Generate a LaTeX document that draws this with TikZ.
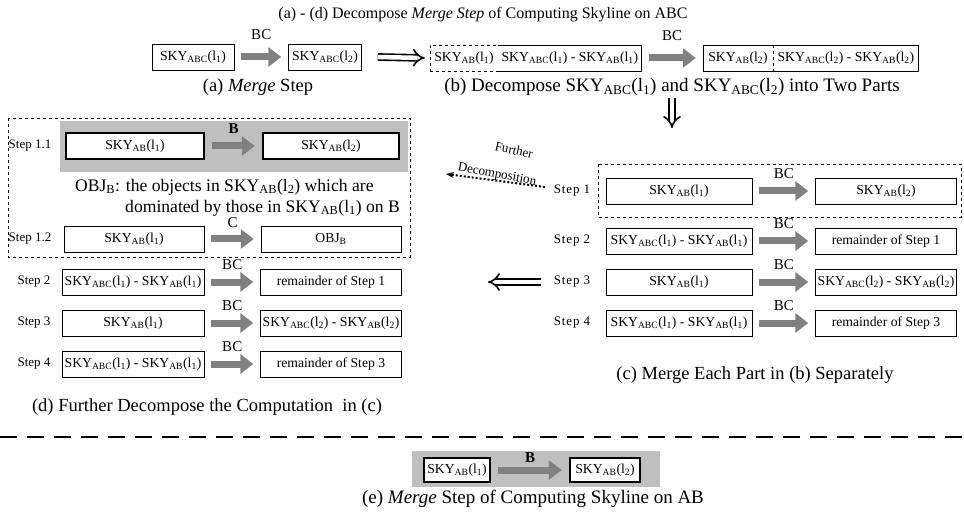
\documentclass[tikz,border=0pt]{standalone}
\usepackage{fontspec}
\setmainfont{Liberation Serif}
\usetikzlibrary{arrows.meta,positioning}
\definecolor{arrowgray}{RGB}{128,128,128}
\definecolor{shadegray}{RGB}{191,191,191}
\newcommand{\skyof}[2]{SKY\textsubscript{#1}(l\textsubscript{#2})}
\tikzset{
  box/.style={draw, fill=white, inner sep=0pt, minimum height=26pt, font=\fontsize{13.7}{16}\selectfont},
  thickbox/.style={box, line width=2.5pt},
  fat/.style={draw=arrowgray, line width=7pt, -{Triangle[length=13pt,width=19pt]}, shorten <=7pt, shorten >=7pt},
  lbl/.style={font=\fontsize{15}{17}\selectfont, inner sep=0pt},
  steplbl/.style={font=\fontsize{13}{15}\selectfont},
  widestep/.style={font=\fontsize{13}{15}\selectfont\addfontfeatures{LetterSpace=7}},
  caption/.style={font=\fontsize{18.5}{21}\selectfont, inner sep=0pt},
  imply/.style={double, double distance=4.5pt, line width=1.6pt, -{Implies}},
}

\begin{document}
\begin{tikzpicture}[x=1pt,y=-1pt]
\useasboundingbox (0,0) rectangle (964,513);
\node[caption, font=\fontsize{16}{19}\selectfont] (title) at (483,15) {(a) - (d) Decompose \textit{Merge Step} of Computing Skyline on ABC};

% (a)
\node[box, minimum width=82pt] (a1) at (193,57) {\skyof{ABC}{1}};
\node[box, minimum width=73pt] (a2) at (325,57) {\skyof{ABC}{2}};
\draw[fat] (a1) -- node[lbl, above=14pt] (abc) {BC} (a2);
\node[caption] (capa) at (258,87) {(a) \textit{Merge} Step};

% (b)
\node[box, dashed, minimum width=68pt] (b1l) at (464,58) {\skyof{AB}{1}};
\node[box, draw=none, minimum width=143pt, anchor=west] (b1r) at (b1l.east) {\skyof{ABC}{1} - \skyof{AB}{1}};
\draw (b1r.north west) -- (b1r.north east) -- (b1r.south east) -- (b1r.south west);
\node[box, draw=none, minimum width=70pt] (b2l) at (738,58) {\skyof{AB}{2}};
\node[box, draw=none, minimum width=145pt, anchor=west] (b2r) at (b2l.east) {\skyof{ABC}{2} - \skyof{AB}{2}};
\draw (b2l.north west) rectangle (b2r.south east);
\draw[dashed] (b2l.north east) -- (b2l.south east);
\draw[fat] (b1r) -- node[lbl, above=14pt] (bbc) {BC} (b2l);
\node[caption, font=\fontsize{19}{21}\selectfont] (capb) at (672,87) {(b) Decompose \skyof{ABC}{1} and \skyof{ABC}{2} into Two Parts};

\draw[imply] ([xshift=16pt]a2.east) -- ([xshift=-5pt]b1l.west);
\coordinate (dtop) at (672,98);
\coordinate (dbot) at (672,128);
\draw[imply] (dtop) -- (dbot);

% (c)
\draw[dashed] (598,164) rectangle (961,217);
\foreach \i/\y/\lt/\rt in {1/191/{\skyof{AB}{1}}/{\skyof{AB}{2}},
    2/241/{\skyof{ABC}{1} - \skyof{AB}{1}}/{remainder of Step 1},
    3/282/{\skyof{AB}{1}}/{\skyof{ABC}{2} - \skyof{AB}{2}},
    4/323/{\skyof{ABC}{1} - \skyof{AB}{1}}/{remainder of Step 3}}
{
  \node[widestep] (cs\i) at (572,\y) {Step \i};
  \node[box, minimum width=146pt] (cl\i) at (679,\y) {\lt};
  \node[box, minimum width=141pt] (cr\i) at (886,\y) {\rt};
  \draw[fat] (cl\i) -- node[lbl, above=9pt] (cb\i) {BC} (cr\i);
}
\node[caption] (capc) at (755,375) {(c) Merge Each Part in (b) Separately};

\coordinate (lright) at (541,282);
\coordinate (lleft) at (488,282);
\draw[imply] (lright) -- (lleft);

% further decomposition
\coordinate (fdtail) at (545,187);
\coordinate (fdhead) at (446,174);
\draw[dotted, line width=2pt, -{Stealth[length=8pt]}] (fdtail) -- (fdhead);
\node[steplbl, inner sep=0pt, rotate=-12] (fd1) at (514,150) {Further};
\node[steplbl, inner sep=0pt, rotate=-11] (fd2) at (497,175) {Decomposition};

% (d)
\draw[dashed] (8,118) rectangle (410,257);
\fill[shadegray] (60,121) rectangle (408,172);
\node[steplbl] (ds11) at (30,146) {Step 1.1};
\node[thickbox, minimum width=138pt] (dl11) at (135,146) {\skyof{AB}{1}};
\node[thickbox, minimum width=136pt] (dr11) at (331,146) {\skyof{AB}{2}};
\draw[fat] (dl11) -- node[lbl, above=9pt] (db11) {\textbf{B}} (dr11);
\node[caption, font=\fontsize{17.6}{20}\selectfont, anchor=west] (obj1) at (75,187) {OBJ\textsubscript{B}: the objects in \skyof{AB}{2} which are};
\node[caption, font=\fontsize{17.6}{20}\selectfont, anchor=east] (obj2) at (400,208) {dominated by those in \skyof{AB}{1} on B};
\node[steplbl] (ds12) at (30,239) {Step 1.2};
\node[box, minimum width=140pt] (dl12) at (134,239) {\skyof{AB}{1}};
\node[box, minimum width=140pt] (dr12) at (331,239) {OBJ\textsubscript{B}};
\draw[fat] (dl12) -- node[lbl, above=8pt] (db12) {C} (dr12);
\foreach \i/\y/\lt/\rt in {2/282/{\skyof{ABC}{1} - \skyof{AB}{1}}/{remainder of Step 1},
    3/323/{\skyof{AB}{1}}/{\skyof{ABC}{2} - \skyof{AB}{2}},
    4/364/{\skyof{ABC}{1} - \skyof{AB}{1}}/{remainder of Step 3}}
{
  \node[steplbl] (ds\i) at (34,\y) {Step \i};
  \node[box, minimum width=142pt] (dl\i) at (133,\y) {\lt};
  \node[box, minimum width=141pt] (dr\i) at (331,\y) {\rt};
  \draw[fat] (dl\i) -- node[lbl, above=9pt] (db\i) {BC} (dr\i);
}
\node[caption] (capd) at (207,407) {(d) Further Decompose the Computation~ in (c)};

% separator
\draw[line width=2.5pt, dash pattern=on 17pt off 10pt] (0,437) -- (964,437);

% (e)
\fill[shadegray] (412,451) rectangle (660,487);
\node[thickbox, minimum width=66pt, minimum height=24pt] (e1) at (457,470) {\skyof{AB}{1}};
\node[thickbox, minimum width=70pt, minimum height=24pt] (e2) at (605,470) {\skyof{AB}{2}};
\draw[fat] (e1) -- node[lbl, above=4pt] (eb) {\textbf{B}} (e2);
\node[caption, font=\fontsize{19}{21}\selectfont] (cape) at (533,499) {(e) \textit{Merge} Step of Computing Skyline on AB};
\end{tikzpicture}
\end{document}
